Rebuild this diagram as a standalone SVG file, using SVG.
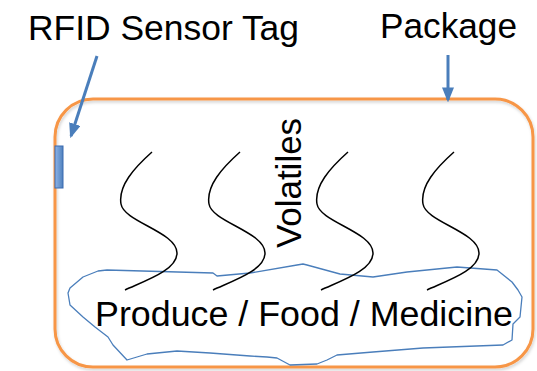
<svg xmlns="http://www.w3.org/2000/svg" width="537" height="371" viewBox="0 0 537 371">
<style>
.lbl{font-family:"Liberation Sans",Arial,sans-serif;font-size:35.5px;fill:#000}
.arrow{stroke:#4a7ebb;stroke-width:3;fill:none}
.wisp{stroke:#000;stroke-width:1.5;fill:none}
</style>
<defs>
<marker id="ah" markerWidth="5" markerHeight="4" refX="4.2" refY="2" orient="auto" markerUnits="strokeWidth">
<path d="M0,0 L5,2 L0,4 Z" fill="#4a7ebb"/>
</marker>
<linearGradient id="tagfill" x1="0" y1="0" x2="1" y2="0">
<stop offset="0" stop-color="#8db3e8"/>
<stop offset="1" stop-color="#4f81bd"/>
</linearGradient>
<filter id="sh" x="-5%" y="-5%" width="110%" height="115%">
<feDropShadow dx="1" dy="2" stdDeviation="1.5" flood-color="#000" flood-opacity="0.18"/>
</filter>
<path id="w" d="M0,0 C-18,16 -34,34 -31,52 C-28,70 25,80 25,101 C25,118 -5,128 -27,138"/>
</defs>
<rect width="537" height="371" fill="#fff"/>
<g id="package">
<rect x="55" y="99" width="478" height="268" rx="38" ry="38" fill="none" stroke="#f79646" stroke-width="3" filter="url(#sh)"/>
</g>
<g id="produce">
<path d="M98,271 L107,270 L213,273 L217,276 L250,273 L297,265 L303,264 L307,265 L340,274 L373,277 L407,272 L457,267 L497,270 L512,282 L518,290 L522,297 L520,317 L513,324 L512,340 L503,345 L423,348 L373,352 L337,355 L327,360 L317,364 L290,365 L277,358 L267,357 L250,356 L210,353 L177,351 L147,354 L127,360 L113,345 L108,337 L95,327 L83,317 L70,305 L68,293 L70,288 L83,277 Z" fill="none" stroke="#4a7ebb" stroke-width="1.3" stroke-linejoin="round"/>
<text class="lbl" x="95" y="326" textLength="418" lengthAdjust="spacingAndGlyphs">Produce / Food / Medicine</text>
</g>
<g id="volatiles">
<use href="#w" class="wisp" x="152" y="152"/>
<use href="#w" class="wisp" x="240" y="152"/>
<use href="#w" class="wisp" x="348" y="152"/>
<use href="#w" class="wisp" x="454" y="152"/>
<text class="lbl" transform="translate(301,248) rotate(-90)" x="0" y="0" textLength="130" lengthAdjust="spacingAndGlyphs">Volatiles</text>
</g>
<g id="rfid-tag">
<rect x="55" y="146" width="8" height="42" fill="url(#tagfill)" stroke="#3a6ab0" stroke-width="1"/>
</g>
<g id="label-rfid">
<text class="lbl" x="28" y="40" textLength="271" lengthAdjust="spacingAndGlyphs">RFID Sensor Tag</text>
</g>
<g id="label-package">
<text class="lbl" x="380" y="38" textLength="137" lengthAdjust="spacingAndGlyphs">Package</text>
</g>
<g id="connectors">
<line class="arrow" x1="97" y1="56" x2="71" y2="136" marker-end="url(#ah)"/>
<line class="arrow" x1="448" y1="55" x2="448" y2="100" marker-end="url(#ah)"/>
</g>
</svg>
